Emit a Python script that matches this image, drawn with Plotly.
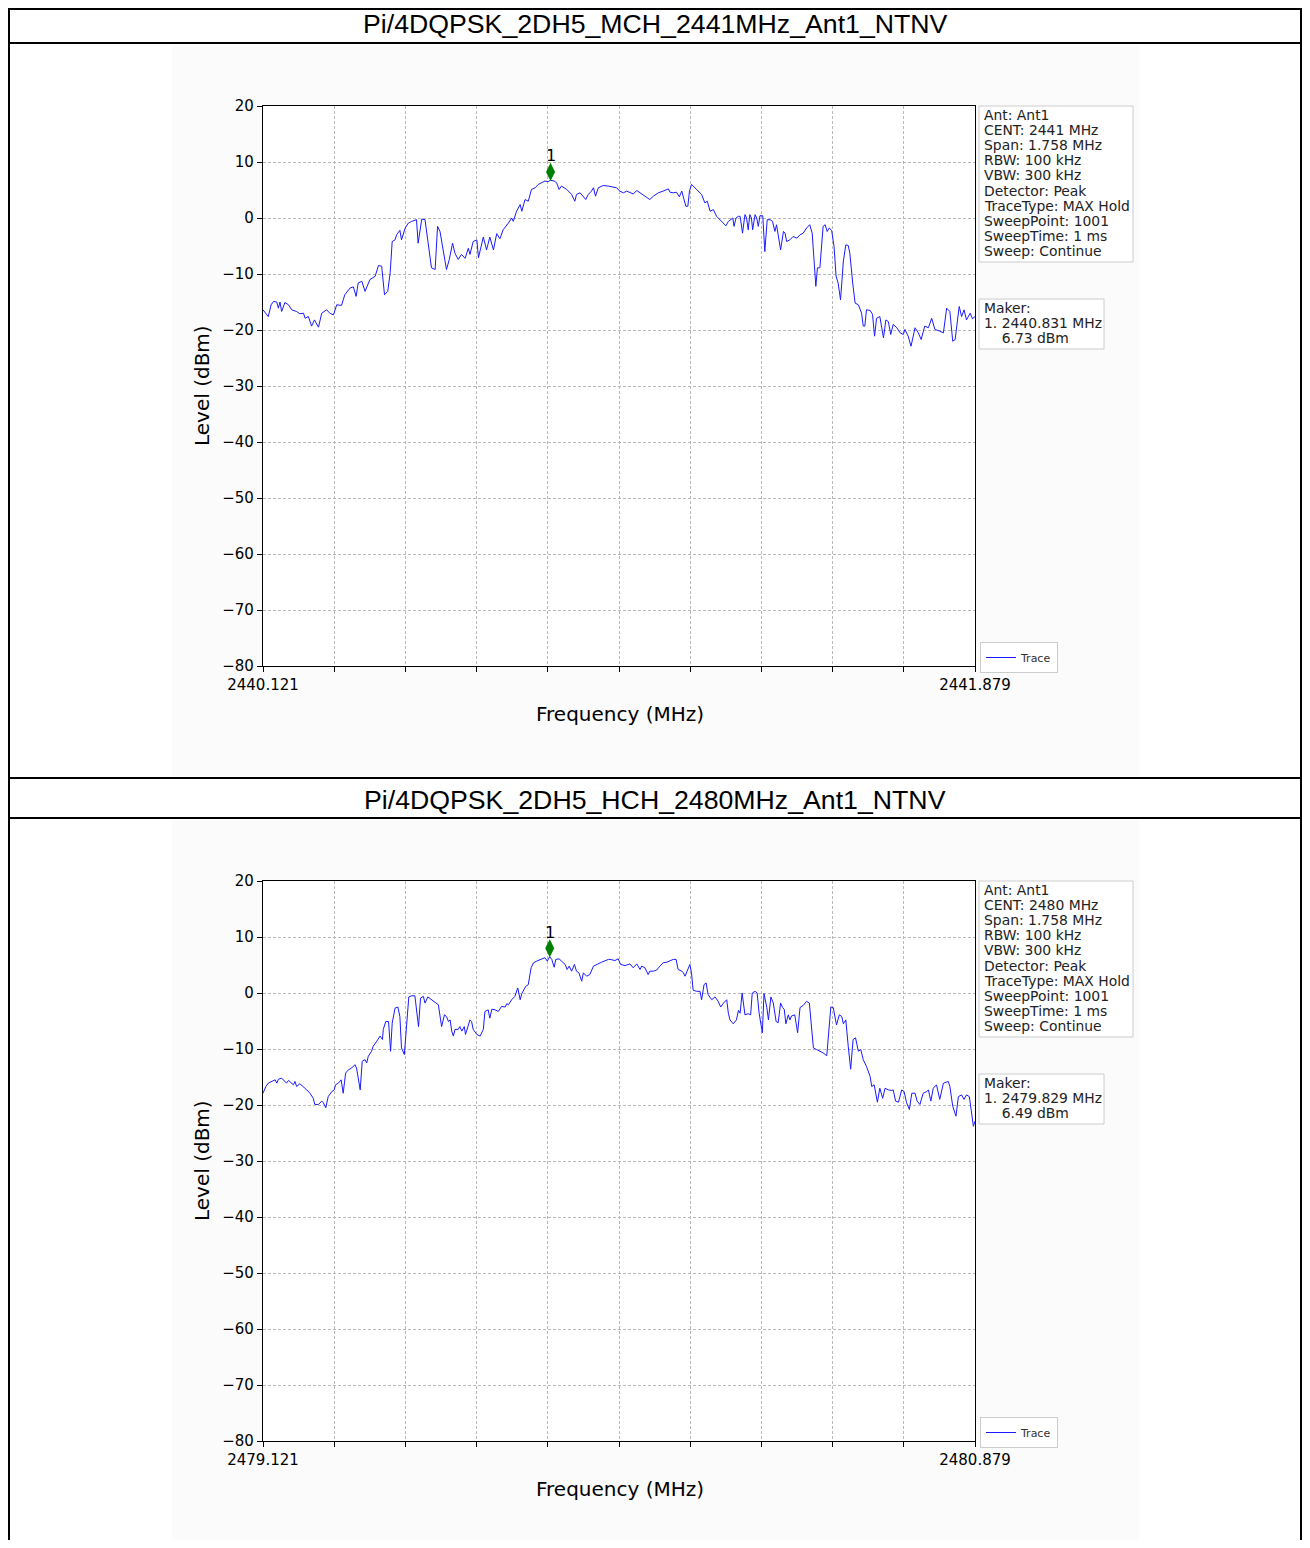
import numpy as np
import plotly.graph_objects as go

# the page body adds an 8px margin on every side, so keep the figure inside the window
OFF = 8
W, H = 1310 - 2 * OFF, 1548 - 2 * OFF

# ---- data ----
mch_title = "Pi/4DQPSK_2DH5_MCH_2441MHz_Ant1_NTNV"
mch_start = 2440.121
mch_stop = 2441.879
mch_offset_khz = [0, 13, 20, 26, 34, 38, 42, 46, 54, 63, 71, 83, 91, 100, 104, 112, 120, 127, 137, 145,
                  157, 165, 174, 182, 194, 202, 215, 223, 230, 235, 244, 252, 264, 277, 285, 293, 300, 308, 314, 319,
                  326, 330, 338, 342, 351, 359, 367, 379, 383, 392, 400, 408, 416, 425, 431, 437, 445, 453, 460, 468,
                  474, 482, 490, 499, 507, 511, 519, 528, 532, 544, 552, 560, 569, 577, 585, 593, 606, 614, 618, 626,
                  635, 639, 647, 655, 663, 672, 680, 688, 696, 704, 710, 719, 725, 731, 737, 750, 762, 770, 774, 783,
                  791, 797, 803, 811, 816, 821, 828, 840, 853, 865, 873, 881, 890, 898, 906, 914, 923, 931, 939, 947,
                  955, 964, 976, 988, 1001, 1005, 1013, 1021, 1028, 1034, 1038, 1044, 1049, 1053, 1058, 1067, 1075, 1083, 1091, 1097,
                  1104, 1112, 1120, 1128, 1137, 1143, 1149, 1155, 1160, 1163, 1168, 1174, 1178, 1184, 1190, 1194, 1198, 1202, 1206, 1209,
                  1215, 1219, 1223, 1227, 1234, 1239, 1245, 1252, 1258, 1264, 1268, 1278, 1285, 1289, 1293, 1301, 1309, 1318, 1326, 1334,
                  1342, 1350, 1356, 1365, 1369, 1375, 1379, 1383, 1388, 1393, 1398, 1404, 1410, 1415, 1420, 1426, 1433, 1439, 1445, 1449,
                  1456, 1462, 1470, 1478, 1482, 1486, 1490, 1499, 1505, 1510, 1515, 1523, 1532, 1538, 1544, 1550, 1556, 1565, 1573, 1581,
                  1585, 1593, 1600, 1610, 1618, 1625, 1634, 1643, 1651, 1655, 1659, 1671, 1680, 1688, 1696, 1703, 1709, 1719, 1725, 1731,
                  1737, 1746, 1752, 1758]
mch_level = [-16.4, -17.6, -15.5, -14.9, -15.0, -16.1, -15.0, -16.7, -15.1, -15.5, -16.4, -16.7, -17.1, -17.0, -17.9, -17.6, -19.3, -18.2, -19.5, -17.0,
             -16.4, -17.0, -17.3, -15.5, -15.6, -13.7, -12.5, -12.3, -14.0, -11.6, -11.3, -13.1, -11.0, -10.4, -8.5, -8.6, -13.7, -13.1, -9.8, -4.2,
             -3.9, -3.0, -2.2, -3.9, -1.8, -0.9, -0.6, -0.3, -4.5, -0.2, -0.3, -4.5, -8.9, -9.2, -1.5, -2.4, -5.7, -9.2, -7.4, -4.5,
             -6.3, -7.4, -6.5, -7.2, -5.4, -6.5, -4.2, -3.9, -7.1, -3.4, -5.7, -3.4, -5.7, -2.8, -3.7, -2.1, -0.9, 0.0, -0.6, 1.2,
             2.4, 1.2, 3.3, 3.0, 5.1, 5.4, 6.0, 6.3, 6.6, 6.5, 6.73, 6.6, 6.3, 5.1, 5.7, 5.1, 4.2, 3.0, 4.2, 4.5,
             3.9, 3.3, 4.2, 4.8, 5.4, 3.9, 5.4, 5.8, 5.7, 5.6, 5.4, 4.8, 4.5, 4.8, 4.5, 4.3, 4.9, 4.5, 4.0, 3.7,
             3.3, 3.9, 4.5, 4.8, 5.2, 4.6, 4.5, 4.6, 3.8, 4.8, 3.6, 2.1, 2.1, 4.8, 6.0, 5.4, 4.8, 4.2, 2.7, 3.0,
             1.2, 1.5, 0.3, -0.3, -0.9, -1.4, -0.6, -0.3, 0.0, -1.5, 0.0, 0.3, 0.3, -2.7, 0.6, 0.0, -2.1, 0.6, 0.0, -2.1,
             0.6, 0.0, -1.5, 0.4, 0.4, -6.0, -0.3, -0.3, -0.6, -2.4, -1.2, -5.7, -2.4, -2.7, -4.2, -3.9, -3.3, -3.6, -3.0, -2.7,
             -1.8, -1.2, -2.7, -12.2, -8.9, -8.9, -5.7, -1.5, -1.2, -2.4, -1.8, -2.2, -5.1, -10.4, -11.6, -14.6, -7.7, -4.8, -4.9, -6.3,
             -11.6, -15.2, -15.5, -17.0, -19.3, -19.3, -16.4, -16.5, -17.2, -21.1, -17.9, -17.6, -21.4, -18.2, -18.5, -20.8, -19.0, -19.6, -20.5, -20.8,
             -19.9, -21.1, -22.9, -19.6, -20.5, -21.7, -19.3, -19.6, -17.9, -18.8, -19.9, -20.2, -20.5, -16.1, -16.7, -22.0, -21.7, -15.8, -17.6, -16.4,
             -18.2, -17.0, -18.0, -17.6]
mch_marker_freq = 2440.831
mch_marker_level = 6.73
mch_info = ["Ant: Ant1", "CENT: 2441 MHz", "Span: 1.758 MHz", "RBW: 100 kHz", "VBW: 300 kHz",
            "Detector: Peak", "TraceType: MAX Hold", "SweepPoint: 1001", "SweepTime: 1 ms", "Sweep: Continue"]

hch_title = "Pi/4DQPSK_2DH5_HCH_2480MHz_Ant1_NTNV"
hch_start = 2479.121
hch_stop = 2480.879
hch_offset_khz = [0, 7, 13, 21, 30, 34, 38, 46, 54, 58, 63, 71, 75, 79, 83, 91, 100, 108, 116, 124,
                  128, 137, 145, 149, 155, 161, 170, 176, 179, 186, 193, 198, 204, 211, 219, 227, 231, 240, 245, 252,
                  256, 260, 268, 272, 281, 289, 295, 297, 303, 310, 315, 319, 326, 333, 338, 342, 349, 355, 360, 367,
                  375, 384, 389, 396, 400, 407, 416, 425, 433, 441, 448, 453, 458, 462, 466, 470, 474, 482, 486, 491,
                  497, 500, 511, 515, 519, 528, 536, 544, 548, 556, 560, 565, 573, 581, 589, 598, 602, 606, 614, 622,
                  629, 635, 639, 649, 655, 662, 668, 676, 684, 690, 696, 702, 708, 713, 719, 723, 731, 737, 746, 751,
                  756, 762, 769, 774, 780, 787, 791, 799, 807, 816, 824, 836, 853, 857, 869, 877, 883, 894, 906, 914,
                  923, 931, 935, 943, 951, 955, 964, 972, 980, 988, 997, 1005, 1013, 1020, 1025, 1034, 1038, 1042, 1048, 1054,
                  1058, 1062, 1071, 1079, 1083, 1089, 1094, 1099, 1108, 1116, 1124, 1130, 1137, 1145, 1149, 1153, 1161, 1169, 1174, 1178,
                  1183, 1190, 1198, 1204, 1208, 1215, 1220, 1225, 1233, 1237, 1244, 1248, 1254, 1260, 1267, 1272, 1278, 1283, 1287, 1291,
                  1297, 1301, 1305, 1313, 1320, 1326, 1334, 1342, 1349, 1355, 1359, 1367, 1375, 1383, 1392, 1396, 1402, 1408, 1416, 1423,
                  1429, 1433, 1439, 1445, 1451, 1457, 1463, 1470, 1476, 1482, 1490, 1499, 1503, 1509, 1517, 1523, 1530, 1536, 1544, 1552,
                  1556, 1562, 1569, 1577, 1583, 1589, 1596, 1602, 1610, 1615, 1622, 1630, 1639, 1643, 1649, 1655, 1663, 1671, 1680, 1692,
                  1696, 1703, 1711, 1717, 1725, 1731, 1737, 1744, 1750, 1754, 1758]
hch_level = [-17.9, -16.7, -16.1, -15.8, -15.5, -16.1, -15.4, -15.2, -15.8, -16.1, -15.6, -16.1, -16.4, -15.8, -16.7, -16.2, -16.7, -17.3, -17.9, -18.8,
             -19.9, -19.9, -19.3, -19.6, -20.5, -18.5, -17.6, -17.3, -16.4, -16.1, -15.5, -17.9, -14.3, -13.7, -13.4, -12.8, -13.4, -17.3, -12.2, -11.9,
             -12.5, -11.3, -10.4, -9.5, -8.6, -7.7, -8.3, -6.5, -5.1, -5.1, -10.4, -5.4, -2.7, -2.5, -4.2, -9.8, -11.0, -4.8, -0.7, -0.5,
             -0.5, -6.0, -0.9, -0.6, -1.8, -0.7, -1.2, -1.8, -2.1, -6.0, -3.9, -4.2, -5.1, -4.8, -6.8, -7.7, -6.5, -6.5, -6.0, -6.8,
             -6.0, -7.4, -4.8, -5.1, -6.5, -7.4, -7.7, -6.5, -3.3, -3.0, -4.5, -2.9, -3.0, -3.3, -2.4, -2.5, -1.9, -2.1, -1.2, -0.6,
             0.9, -1.2, -0.1, 1.2, 1.5, 4.5, 5.4, 5.7, 6.0, 6.1, 6.3, 5.7, 6.49, 6.0, 4.6, 6.0, 6.1, 5.7, 5.1, 4.2,
             4.8, 3.9, 5.1, 3.9, 3.6, 2.1, 3.6, 3.0, 3.3, 4.8, 5.1, 5.5, 6.0, 6.0, 5.8, 6.1, 5.1, 4.9, 5.2, 4.5,
             5.2, 4.2, 4.8, 4.5, 3.3, 3.9, 3.9, 4.1, 4.8, 5.4, 5.5, 5.8, 6.0, 6.0, 4.2, 3.9, 3.6, 3.0, 4.2, 5.1,
             3.6, 0.5, 0.3, 0.3, -1.2, 1.5, 1.8, -0.3, -1.2, -0.7, -1.5, -2.5, -1.8, -1.2, -3.6, -4.8, -5.5, -4.8, -3.1, -3.6,
             0.0, -3.9, -3.7, -3.9, 0.0, 0.3, 0.0, -3.6, -7.1, -0.1, -2.6, -4.8, -0.7, -1.8, -5.1, -5.3, -1.8, -2.6, -2.9, -5.5,
             -3.9, -4.8, -4.1, -3.9, -7.1, -2.6, -2.2, -1.5, -1.8, -6.5, -9.8, -10.1, -10.4, -10.7, -11.2, -7.7, -2.5, -2.6, -5.7, -3.9,
             -4.2, -5.5, -4.8, -9.5, -13.6, -8.3, -8.0, -10.4, -10.1, -11.9, -13.1, -14.9, -16.7, -16.4, -19.5, -17.0, -18.8, -17.0, -17.3, -17.4,
             -17.3, -19.3, -19.5, -17.3, -17.6, -19.6, -20.8, -17.9, -17.9, -19.3, -19.9, -17.9, -17.6, -17.3, -19.3, -17.0, -16.4, -19.0, -16.1, -15.8,
             -16.7, -20.2, -22.0, -18.5, -18.2, -19.0, -18.2, -18.5, -21.4, -23.8, -22.9]
hch_marker_freq = 2479.829
hch_marker_level = 6.49
hch_info = ["Ant: Ant1", "CENT: 2480 MHz", "Span: 1.758 MHz", "RBW: 100 kHz", "VBW: 300 kHz",
            "Detector: Peak", "TraceType: MAX Hold", "SweepPoint: 1001", "SweepTime: 1 ms", "Sweep: Continue"]

y_ticks = [20, 10, 0, -10, -20, -30, -40, -50, -60, -70, -80]


# screen pixel -> paper fraction
def px(x):
    return (x - OFF) / W


def py(y):
    return 1 - (y - OFF) / H


MPL_FONT = "DejaVu Sans"
fig = go.Figure()

panels = [
    dict(title=mch_title, start=mch_start, stop=mch_stop, off=mch_offset_khz, lev=mch_level,
         mf=mch_marker_freq, ml=mch_marker_level, info=mch_info,
         top=106, bottom=666, title_y=24, fig_top=46, fig_bot=776),
    dict(title=hch_title, start=hch_start, stop=hch_stop, off=hch_offset_khz, lev=hch_level,
         mf=hch_marker_freq, ml=hch_marker_level, info=hch_info,
         top=881, bottom=1441, title_y=800, fig_top=820, fig_bot=1548),
]

shapes = []
annotations = []
left, right = 263, 975

for i, p in enumerate(panels):
    n = "" if i == 0 else str(i + 1)
    xa, ya = "x" + n, "y" + n
    freq = [p["start"] + o / 1000.0 for o in p["off"]]

    fig.add_trace(go.Scatter(x=freq, y=p["lev"], mode="lines", name="Trace",
                             line=dict(color="#1a1aff", width=1),
                             xaxis=xa, yaxis=ya, legend="legend" + n, showlegend=True))
    # peak marker (drawn a little above the peak level, like the analyzer plot)
    fig.add_trace(go.Scatter(x=[p["mf"]], y=[p["ml"] + 1.5], mode="markers",
                             marker=dict(symbol="diamond-tall", size=13, color="green"),
                             xaxis=xa, yaxis=ya, showlegend=False, hoverinfo="x+y"))
    annotations.append(dict(text="1", xref=xa, yref=ya, x=p["mf"], y=p["ml"] + 1.5, yshift=16,
                            showarrow=False, xanchor="center", yanchor="middle",
                            font=dict(family=MPL_FONT, size=16, color="black")))

    xticks = list(np.linspace(p["start"], p["stop"], 11))
    xtext = ["%.3f" % p["start"]] + [""] * 9 + ["%.3f" % p["stop"]]
    axis_common = dict(showline=True, linecolor="black", linewidth=1.2, mirror=True,
                       ticks="outside", ticklen=5, tickcolor="black", tickwidth=1,
                       showgrid=True, gridcolor="#b8b8b8", gridwidth=0.8, griddash="3px,2px",
                       zeroline=False, automargin=False,
                       tickfont=dict(family=MPL_FONT, size=15, color="black"))
    fig.update_layout({
        "xaxis" + n: dict(axis_common, domain=[px(left), px(right)], range=[p["start"], p["stop"]],
                          tickmode="array", tickvals=xticks, ticktext=xtext, anchor=ya),
        "yaxis" + n: dict(axis_common, domain=[py(p["bottom"]), py(p["top"])], range=[-80, 20],
                          tickmode="array", tickvals=y_ticks, anchor=xa, ticklabelstandoff=0),
        "legend" + n: dict(x=px(980), y=py(p["bottom"] - 24), xanchor="left", yanchor="top",
                           bgcolor="white", bordercolor="#cccccc", borderwidth=1,
                           font=dict(family=MPL_FONT, size=11, color="#333333"),
                           itemwidth=30, tracegroupgap=0),
    })

    # faint figure background and white plot area
    shapes.append(dict(type="rect", xref="paper", yref="paper", x0=px(172), x1=px(1139),
                       y0=max(py(p["fig_bot"]), 0), y1=py(p["fig_top"]), fillcolor="#fbfbfb",
                       line=dict(width=0), layer="below"))
    shapes.append(dict(type="rect", xref=xa + " domain", yref=ya + " domain", x0=0, x1=1, y0=0, y1=1,
                       fillcolor="white", line=dict(width=0), layer="below"))

    # title row
    annotations.append(dict(text=p["title"], xref="paper", yref="paper", x=px(655), y=py(p["title_y"]),
                            showarrow=False, xanchor="center", yanchor="middle",
                            font=dict(family="Liberation Sans, Arial", size=26.7, color="black")))

    # axis titles
    annotations.append(dict(text="Frequency (MHz)", xref="paper", yref="paper", x=px(620),
                            y=py(p["bottom"] + 48), showarrow=False, xanchor="center", yanchor="middle",
                            font=dict(family=MPL_FONT, size=20, color="black")))
    annotations.append(dict(text="Level (dBm)", xref="paper", yref="paper", x=px(202),
                            y=py((p["top"] + p["bottom"]) / 2), showarrow=False, textangle=-90,
                            xanchor="center", yanchor="middle",
                            font=dict(family=MPL_FONT, size=20, color="black")))

    # settings box
    t = p["top"]
    shapes.append(dict(type="rect", xref="paper", yref="paper", x0=px(979), x1=px(1133),
                       y0=py(t + 156), y1=py(t), fillcolor="white",
                       line=dict(color="#cccccc", width=1)))
    for k, line in enumerate(p["info"]):
        annotations.append(dict(text=line, xref="paper", yref="paper", x=px(982), y=py(t + 9 + 15.1 * k),
                                showarrow=False, xanchor="left", yanchor="middle",
                                font=dict(family=MPL_FONT, size=13.9, color="#222222")))

    # marker box
    mt = t + 193
    shapes.append(dict(type="rect", xref="paper", yref="paper", x0=px(979), x1=px(1104),
                       y0=py(mt + 50), y1=py(mt), fillcolor="white",
                       line=dict(color="#cccccc", width=1)))
    mlines = ["Maker:", "1. %.3f MHz" % p["mf"], "\u00a0\u00a0\u00a0\u00a0%.2f dBm" % p["ml"]]
    for k, line in enumerate(mlines):
        annotations.append(dict(text=line, xref="paper", yref="paper", x=px(982), y=py(mt + 9 + 15.1 * k),
                                showarrow=False, xanchor="left", yanchor="middle",
                                font=dict(family=MPL_FONT, size=13.9, color="#222222")))

# table borders
for yy in [9, 43, 778, 818]:
    shapes.append(dict(type="line", xref="paper", yref="paper", x0=px(8), x1=px(1302),
                       y0=py(yy), y1=py(yy), line=dict(color="black", width=2)))
for xx in [9, 1301]:
    shapes.append(dict(type="line", xref="paper", yref="paper", x0=px(xx), x1=px(xx),
                       y0=0, y1=1, line=dict(color="black", width=2)))

fig.update_layout(width=W, height=H, margin=dict(l=0, r=0, t=0, b=0, autoexpand=False),
                  paper_bgcolor="white", plot_bgcolor="white",
                  shapes=shapes, annotations=annotations)

fig.write_html("out.html")
